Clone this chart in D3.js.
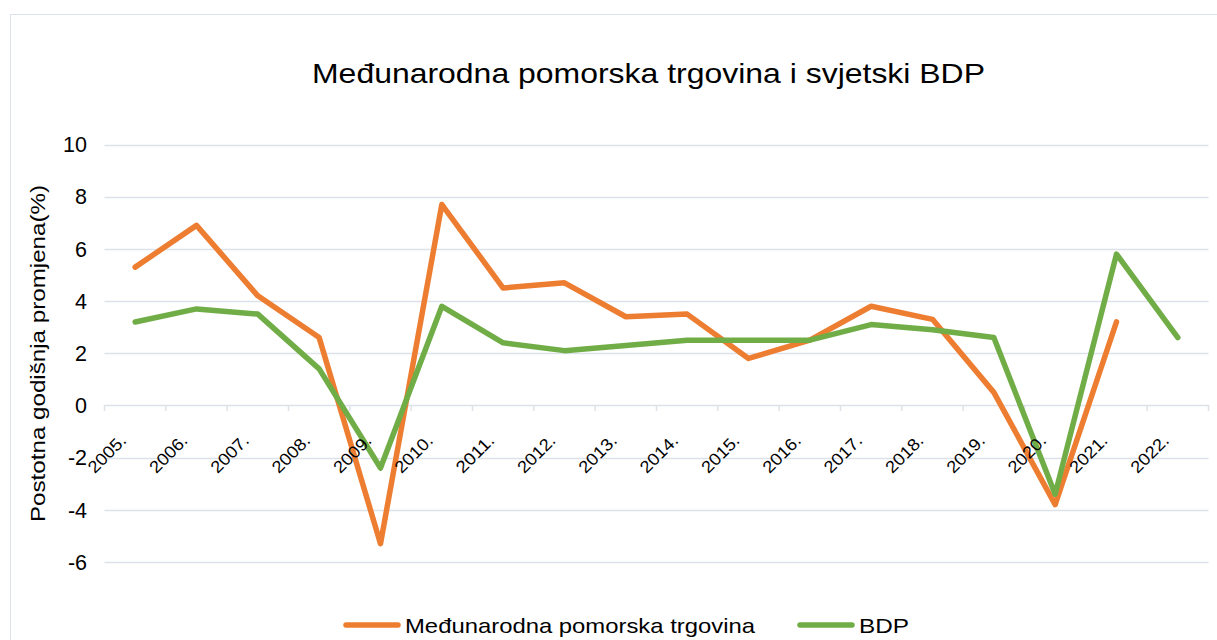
<!DOCTYPE html>
<html>
<head>
<meta charset="utf-8">
<script src="https://cdn.jsdelivr.net/npm/d3@7"></script>
<style>
  body { margin: 0; background: #fff; }
  text { font-family: "Liberation Sans", Arial, sans-serif; fill: #000; }
</style>
</head>
<body>
<div class="lineChart"></div>
<script>
var width = 1217,
    height = 640;

// data
var years = ["2005.", "2006.", "2007.", "2008.", "2009.", "2010.", "2011.", "2012.", "2013.",
             "2014.", "2015.", "2016.", "2017.", "2018.", "2019.", "2020.", "2021.", "2022."];
var trade = [5.3, 6.9, 4.2, 2.6, -5.3, 7.7, 4.5, 4.7, 3.4, 3.5, 1.8, 2.5, 3.8, 3.3, 0.5, -3.8, 3.2, null];
var gdp = [3.2, 3.7, 3.5, 1.4, -2.4, 3.8, 2.4, 2.1, 2.3, 2.5, 2.5, 2.5, 3.1, 2.9, 2.6, -3.4, 5.8, 2.6];
var yTicks = [-6, -4, -2, 0, 2, 4, 6, 8, 10];

var seriesNames = ["Međunarodna pomorska trgovina", "BDP"];
var color = ["#ED7D31", "#70AD47"];

var svg = d3.select(".lineChart")
  .append("svg")
  .attr("width", width)
  .attr("height", height);

// chart frame
svg.append("rect")
  .attr("x", 10.5)
  .attr("y", 14.5)
  .attr("width", width + 20)
  .attr("height", height + 20)
  .attr("fill", "none")
  .attr("stroke", "#dde2ea");

var x = d3.scaleBand()
  .domain(years)
  .range([104.5, 1208.5]);

var y = d3.scaleLinear()
  .domain([-6, 10])
  .range([562, 144.5]);

// title
svg.append("text")
  .attr("x", 648.5)
  .attr("y", 83)
  .attr("text-anchor", "middle")
  .attr("font-size", "28px")
  .attr("textLength", 673)
  .attr("lengthAdjust", "spacingAndGlyphs")
  .text("Međunarodna pomorska trgovina i svjetski BDP");

// gridlines
svg.append("g")
  .selectAll("line")
  .data(yTicks.filter(function(d) { return d !== 0; }))
  .enter()
  .append("line")
  .attr("x1", x.range()[0])
  .attr("x2", x.range()[1])
  .attr("y1", function(d) { return Math.round(y(d)) + 0.5; })
  .attr("y2", function(d) { return Math.round(y(d)) + 0.5; })
  .attr("stroke", "#dde2ea")
  .attr("stroke-width", 1.5);

// y labels
svg.append("g")
  .selectAll("text")
  .data(yTicks)
  .enter()
  .append("text")
  .attr("x", 87)
  .attr("y", function(d) { return y(d); })
  .attr("dy", "0.36em")
  .attr("text-anchor", "end")
  .attr("font-size", "21.5px")
  .text(function(d) { return d; });

// y axis title
svg.append("text")
  .attr("transform", "translate(45,353.5) rotate(-90)")
  .attr("text-anchor", "middle")
  .attr("font-size", "21px")
  .attr("textLength", 337)
  .attr("lengthAdjust", "spacingAndGlyphs")
  .text("Postotna godišnja promjena(%)");

// x axis on zero line
var xAxis = d3.axisBottom(x)
  .tickSize(0)
  .tickFormat("");
var gx = svg.append("g")
  .attr("transform", "translate(0," + Math.round(y(0)) + ")")
  .call(xAxis);
gx.select(".domain")
  .attr("stroke", "#dde2ea")
  .attr("stroke-width", 1.5);

var bounds = years.map(function(d) { return x(d); }).concat([x.range()[1]]);
gx.selectAll(".bound")
  .data(bounds)
  .enter()
  .append("line")
  .attr("class", "bound")
  .attr("x1", function(d) { return d; })
  .attr("x2", function(d) { return d; })
  .attr("y1", 0)
  .attr("y2", 6)
  .attr("stroke", "#dde2ea")
  .attr("stroke-width", 1.5);

var line = d3.line()
  .defined(function(d) { return d !== null; })
  .x(function(d, i) { return x(years[i]) + x.bandwidth() / 2; })
  .y(function(d) { return y(d); });

svg.selectAll(".series")
  .data([trade, gdp])
  .enter()
  .append("path")
  .attr("class", "series")
  .attr("fill", "none")
  .attr("stroke", function(d, i) { return color[i]; })
  .attr("stroke-width", 5.5)
  .attr("stroke-linejoin", "round")
  .attr("stroke-linecap", "round")
  .attr("d", line);

// rotated category labels (drawn over the lines)
svg.append("g")
  .selectAll("text")
  .data(years)
  .enter()
  .append("text")
  .attr("transform", function(d) {
    return "translate(" + (x(d) + x.bandwidth() / 2 - 12) + "," + (y(0) + 32) + ") rotate(-45)";
  })
  .attr("text-anchor", "end")
  .attr("dy", "0.35em")
  .attr("font-size", "17px")
  .attr("textLength", 46)
  .attr("lengthAdjust", "spacingAndGlyphs")
  .text(function(d) { return d; });

// legend
var legendX = [346, 800];
var legendW = [350, 50];
var legend = svg.selectAll(".legend")
  .data(seriesNames)
  .enter()
  .append("g")
  .attr("class", "legend")
  .attr("transform", function(d, i) { return "translate(" + legendX[i] + ",625)"; });

legend.append("line")
  .attr("x1", 0)
  .attr("x2", 52)
  .attr("stroke", function(d, i) { return color[i]; })
  .attr("stroke-width", 5.5)
  .attr("stroke-linecap", "round");

legend.append("text")
  .attr("x", 59)
  .attr("dy", "0.36em")
  .attr("font-size", "21px")
  .attr("textLength", function(d, i) { return legendW[i]; })
  .attr("lengthAdjust", "spacingAndGlyphs")
  .text(function(d) { return d; });
</script>
</body>
</html>
